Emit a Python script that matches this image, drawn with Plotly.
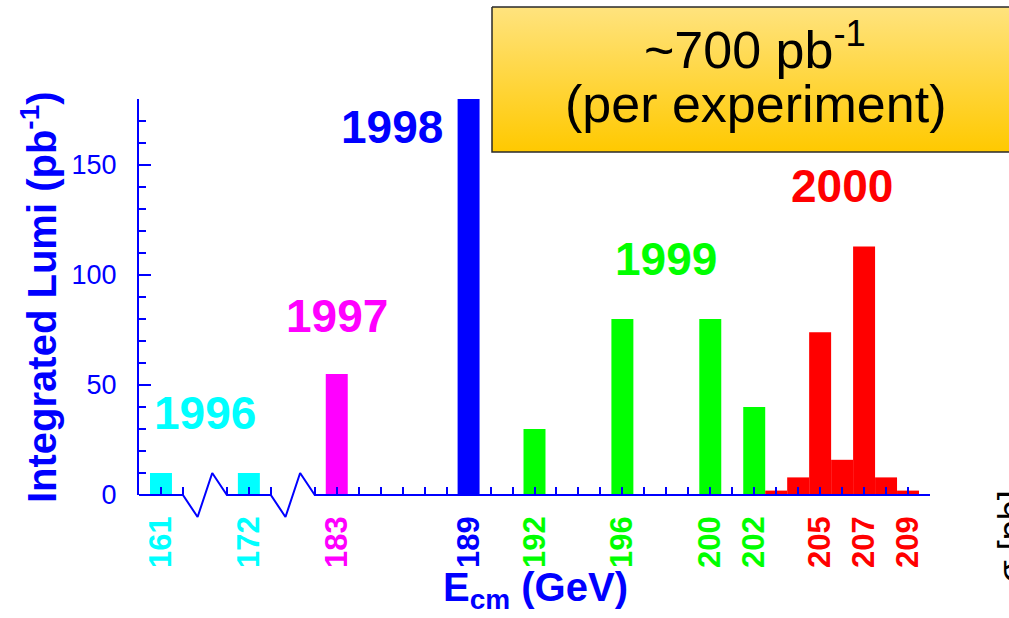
import plotly.graph_objects as go

# Canvas and plot-box geometry (pixels)
W, H = 1009, 618
PL, PR, PT, PB = 139, 930, 99, 495

# Integrated luminosity per centre-of-mass energy point
energy = [161, 172, 183, 189, 192, 196, 200, 202, 203, 204, 205, 206, 207, 208, 209]
lumi = [10, 10, 55, 180, 30, 80, 80, 40, 2, 8, 74, 16, 113, 8, 2]
year = [1996, 1996, 1997, 1998, 1999, 1999, 1999, 1999,
        2000, 2000, 2000, 2000, 2000, 2000, 2000]

labelled_energies = [161, 172, 183, 189, 192, 196, 200, 202, 205, 207, 209]

years = [1996, 1997, 1998, 1999, 2000]
year_colors = ["#00ffff", "#ff00ff", "#0000ff", "#00ff00", "#ff0000"]
color_of = dict(zip(years, year_colors))

AXIS_BLUE = "#0000ff"
FONT = "Liberation Sans, Arial, Helvetica, sans-serif"

# Broken energy axis: continuous segments separated by fixed gaps
SEGMENTS = [(160, 162), (171, 173), (182, 210)]
GAP = 2.0
X_START = 174.0


def axis_pos(e):
    p = X_START
    for lo, hi in SEGMENTS:
        if lo <= e <= hi:
            return p + (e - lo)
        p += (hi - lo) + GAP
    raise ValueError(e)


x0, x1 = axis_pos(SEGMENTS[0][0]), axis_pos(SEGMENTS[-1][1])
y0, y1 = 0, 180

bar_x = [axis_pos(e) for e in energy]
bar_c = [color_of[y] for y in year]

fig = go.Figure()

fig.add_trace(go.Bar(
    x=bar_x, y=lumi, width=1.0,
    marker=dict(color=bar_c, line=dict(width=0)),
    xaxis="x", yaxis="y", hoverinfo="x+y",
))

# x axis line with zig-zag break markers (drawn in an overlay frame using the same units)
zx, zy = [], []
p = X_START
for i, (lo, hi) in enumerate(SEGMENTS):
    a = p
    b = p + (hi - lo)
    zx += [a, b]
    zy += [0, 0]
    if i < len(SEGMENTS) - 1:
        zx += [b + GAP / 3, b + 2 * GAP / 3]
        zy += [-10, 10]
    p = b + GAP
fig.add_trace(go.Scatter(
    x=zx, y=zy, mode="lines", line=dict(color=AXIS_BLUE, width=2),
    xaxis="x2", yaxis="y2", hoverinfo="skip",
))

# Highlight box
BX0, BY0, BX1, BY1 = 492, 7, 1030, 152
fig.add_trace(go.Scatter(
    x=[BX0, BX1, BX1, BX0, BX0], y=[BY0, BY0, BY1, BY1, BY0],
    mode="lines", fill="toself",
    fillgradient=dict(type="vertical", start=BY0, stop=BY1,
                      colorscale=[[0, "#ffe37e"], [1, "#ffc900"]]),
    line=dict(color="#2a2a2a", width=1.5),
    xaxis="x3", yaxis="y3", hoverinfo="skip",
))

# Tick positions and coloured labels
tickvals, ticktext = [], []
for lo, hi in SEGMENTS:
    for e in range(lo, hi + 1):
        if e == SEGMENTS[0][0]:
            continue
        tickvals.append(axis_pos(e))
        if e in labelled_energies:
            c = color_of[year[energy.index(e)]]
            ticktext.append(f'<span style="color:{c}">{e}</span>')
        else:
            ticktext.append("")

kx = (PR - PL) / (x1 - x0)
ky = (PB - PT) / (y1 - y0)

fig.update_layout(
    width=W, height=H,
    margin=dict(l=0, r=0, t=0, b=0),
    paper_bgcolor="white", plot_bgcolor="rgba(0,0,0,0)",
    showlegend=False,
    xaxis=dict(
        domain=[PL / W, PR / W], range=[x0, x1], anchor="y",
        showline=False, showgrid=False, zeroline=False,
        ticks="inside", ticklen=8, tickwidth=2, tickcolor=AXIS_BLUE,
        tickvals=tickvals, ticktext=ticktext, tickangle=-90,
        tickfont=dict(family=FONT, size=31, weight="bold"),
        ticklabelstandoff=14, automargin=False,
    ),
    yaxis=dict(
        domain=[1 - PB / H, 1 - PT / H], range=[y0, y1], anchor="x",
        showline=True, linecolor=AXIS_BLUE, linewidth=2,
        showgrid=False, zeroline=False,
        ticks="inside", ticklen=12, tickwidth=2, tickcolor=AXIS_BLUE,
        tick0=0, dtick=50,
        minor=dict(dtick=10, tick0=0, ticks="inside", ticklen=7,
                   tickwidth=2, tickcolor=AXIS_BLUE, showgrid=False),
        tickfont=dict(family=FONT, size=27, color=AXIS_BLUE),
        ticklabelstandoff=15, automargin=False,
    ),
    xaxis2=dict(domain=[0, 1], range=[x0 - PL / kx, x1 + (W - PR) / kx],
                anchor="y2", visible=False, fixedrange=True),
    yaxis2=dict(domain=[0, 1], range=[y0 - (H - PB) / ky, y1 + PT / ky],
                anchor="x2", visible=False, fixedrange=True),
    xaxis3=dict(domain=[0, 1], range=[0, W], anchor="y3",
                visible=False, fixedrange=True),
    yaxis3=dict(domain=[0, 1], range=[H, 0], anchor="x3",
                visible=False, fixedrange=True),
)

# Year labels above each running period
year_label_xy = {1996: (177.0, 37.5), 1997: (183.0, 81.5), 1998: (185.5, 167.5),
                 1999: (198.0, 107.5), 2000: (206.0, 140.5)}
for yr in years:
    lx, ly = year_label_xy[yr]
    fig.add_annotation(
        x=lx, y=ly, xref="x", yref="y", text=str(yr), showarrow=False,
        xanchor="center", yanchor="middle",
        font=dict(family=FONT, size=46, color=color_of[yr], weight="bold"),
    )

# Axis titles
fig.add_annotation(
    x=39 / W, y=1 - 297 / H, xref="paper", yref="paper",
    text="Integrated Lumi (pb<sup>-1</sup>)", textangle=-90, showarrow=False,
    xanchor="center", yanchor="middle",
    font=dict(family=FONT, size=40, color=AXIS_BLUE, weight="bold"),
)
fig.add_annotation(
    x=535 / W, y=1 - 590 / H, xref="paper", yref="paper",
    text="E<sub>cm</sub> (GeV)", showarrow=False,
    xanchor="center", yanchor="middle",
    font=dict(family=FONT, size=40, color=AXIS_BLUE, weight="bold"),
)

# Text inside the highlight box
fig.add_annotation(
    x=755 / W, y=1 - 46 / H, xref="paper", yref="paper",
    text="~700 pb<sup>-1</sup>", showarrow=False,
    xanchor="center", yanchor="middle",
    font=dict(family=FONT, size=52, color="black"),
)
fig.add_annotation(
    x=755 / W, y=1 - 104 / H, xref="paper", yref="paper",
    text="(per experiment)", showarrow=False,
    xanchor="center", yanchor="middle",
    font=dict(family=FONT, size=52, color="black"),
)

# Edge of the neighbouring panel's axis title
fig.add_annotation(
    x=988 / W, y=1 - 537 / H, xref="paper", yref="paper",
    text="σ [pb]", textangle=-90, showarrow=False,
    xanchor="left", yanchor="middle",
    font=dict(family=FONT, size=36, color="black"),
)

fig.write_html("out.html")
